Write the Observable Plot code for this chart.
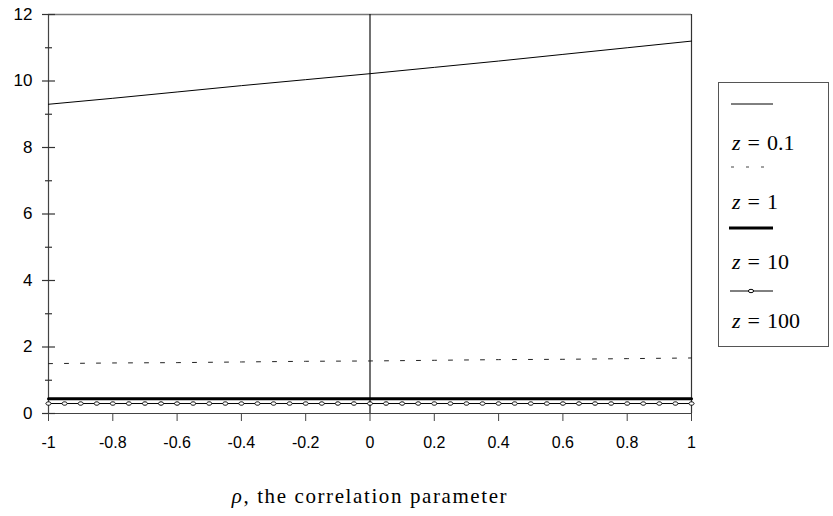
<!DOCTYPE html>
<html><head><meta charset="utf-8">
<script src="https://cdn.jsdelivr.net/npm/d3@7"></script>
<script src="https://cdn.jsdelivr.net/npm/@observablehq/plot@0.6"></script>
<style>
body{margin:0;background:#fff;}
#wrap{position:relative;width:833px;height:516px;}
#legend{position:absolute;left:718px;top:82px;width:111px;height:265px;border:1px solid #555;box-sizing:border-box;}
.lg-sample{position:absolute;left:10px;line-height:0;}
.lg-sample svg{display:block;}
.lg-text{position:absolute;left:13px;font-family:"Liberation Serif",serif;font-size:22px;line-height:22px;white-space:nowrap;color:#000;}
.lg-text i{margin-right:7px;}
.lg-text .eq{margin-right:7px;}
</style></head><body><div id="wrap"></div>
<script>
// ---- data ----
const rho = [-1, -0.8, -0.6, -0.4, -0.2, 0, 0.2, 0.4, 0.6, 0.8, 1];
const seriesThin = [9.30, 9.48, 9.67, 9.86, 10.04, 10.22, 10.41, 10.60, 10.80, 11.00, 11.20];
const seriesDotted = [1.50, 1.52, 1.53, 1.55, 1.57, 1.58, 1.60, 1.62, 1.63, 1.65, 1.67];
const seriesThick = [0.44, 0.44, 0.44, 0.44, 0.44, 0.44, 0.44, 0.44, 0.44, 0.44, 0.44];
const rhoFine = [-1, -0.95, -0.9, -0.85, -0.8, -0.75, -0.7, -0.65, -0.6, -0.55, -0.5, -0.45, -0.4, -0.35, -0.3, -0.25, -0.2, -0.15, -0.1, -0.05, 0, 0.05, 0.1, 0.15, 0.2, 0.25, 0.3, 0.35, 0.4, 0.45, 0.5, 0.55, 0.6, 0.65, 0.7, 0.75, 0.8, 0.85, 0.9, 0.95, 1];
const seriesCircles = [0.3, 0.3, 0.3, 0.3, 0.3, 0.3, 0.3, 0.3, 0.3, 0.3, 0.3, 0.3, 0.3, 0.3, 0.3, 0.3, 0.3, 0.3, 0.3, 0.3, 0.3, 0.3, 0.3, 0.3, 0.3, 0.3, 0.3, 0.3, 0.3, 0.3, 0.3, 0.3, 0.3, 0.3, 0.3, 0.3, 0.3, 0.3, 0.3, 0.3, 0.3];
const xTicks = [-1, -0.8, -0.6, -0.4, -0.2, 0, 0.2, 0.4, 0.6, 0.8, 1];
const xTickLabels = ["-1", "-0.8", "-0.6", "-0.4", "-0.2", "0", "0.2", "0.4", "0.6", "0.8", "1"];
const yMajor = [0, 2, 4, 6, 8, 10, 12];
const yMinor = [1, 3, 5, 7, 9, 11];
const legendLabels = ["0.1", "1", "10", "100"];
const xLabel = "ρ, the correlation parameter";

// ---- helpers ----
const hTick = (l, r) => ({draw(ctx) { ctx.moveTo(-l, 0); ctx.lineTo(r, 0); }});
const ellipse = (rx, ry) => ({draw(ctx) {
  const k = 0.5523;
  ctx.moveTo(rx, 0);
  ctx.bezierCurveTo(rx, ry * k, rx * k, ry, 0, ry);
  ctx.bezierCurveTo(-rx * k, ry, -rx, ry * k, -rx, 0);
  ctx.bezierCurveTo(-rx, -ry * k, -rx * k, -ry, 0, -ry);
  ctx.bezierCurveTo(rx * k, -ry, rx, -ry * k, rx, 0);
  ctx.closePath();
}});

const fmtX = new Map(xTicks.map((t, i) => [t, xTickLabels[i]]));

const chart = Plot.plot({
  width: 833,
  height: 516,
  marginLeft: 48,
  marginRight: 142,
  marginTop: 14,
  marginBottom: 103,
  x: {domain: [-1, 1]},
  y: {domain: [0, 12]},
  style: {fontFamily: '"Liberation Sans", Arial, sans-serif', fontSize: "16px", color: "#000", background: "#fff"},
  marks: [
    // frame
    Plot.ruleY([12], {stroke: "#777", strokeWidth: 1.5}),
    Plot.ruleX([1], {stroke: "#333", strokeWidth: 1.2}),
    Plot.ruleX([-1], {stroke: "#444", strokeWidth: 1.2}),
    Plot.ruleY([0], {stroke: "#444", strokeWidth: 1.2}),
    Plot.ruleX([0], {stroke: "#111", strokeWidth: 1.2}),
    // y ticks
    Plot.dot(yMajor, {x: () => -1, y: d => d, symbol: hTick(6.5, 6.5), fill: "none", stroke: "#333", strokeWidth: 1.2}),
    Plot.dot(yMinor, {x: () => -1, y: d => d, symbol: hTick(3.5, 3.5), fill: "none", stroke: "#333", strokeWidth: 1.2}),
    Plot.axisY({ticks: yMajor, tickSize: 0, tickPadding: 16, fontSize: 17, label: null}),
    Plot.axisX({ticks: xTicks, tickSize: 8, tickPadding: 15, tickFormat: d => fmtX.get(d), stroke: "#444", fontSize: 16, label: null}),
    // series
    Plot.line(rho.map((r, i) => ({r, v: seriesThin[i]})), {x: "r", y: "v", stroke: "#000", strokeWidth: 1}),
    Plot.line(rho.map((r, i) => ({r, v: seriesDotted[i]})), {x: "r", y: "v", stroke: "#222", strokeWidth: 1, strokeDasharray: "4,12"}),
    Plot.line(rho.map((r, i) => ({r, v: seriesThick[i]})), {x: "r", y: "v", stroke: "#000", strokeWidth: 3}),
    Plot.line(rhoFine.map((r, i) => ({r, v: seriesCircles[i]})), {x: "r", y: "v", stroke: "#000", strokeWidth: 1}),
    Plot.dot(rhoFine.map((r, i) => ({r, v: seriesCircles[i]})), {x: "r", y: "v", symbol: ellipse(2.6, 1.7), fill: "#fff", stroke: "#000", strokeWidth: 1}),
    // x label
    Plot.text([xLabel], {frameAnchor: "bottom", dy: 89, text: d => d, fontFamily: '"Liberation Serif", serif', fontSize: 21, fill: "#000"})
  ]
});

// italicize rho in the x label, widen spacing like the reference
d3.select(chart).selectAll("text").each(function() {
  if (this.textContent === xLabel) {
    const t = d3.select(this);
    t.style("letter-spacing", "1.6px");
    t.text(null);
    t.append("tspan").attr("font-style", "italic").text("ρ");
    t.append("tspan").text(xLabel.slice(1));
  }
});

const wrap = document.getElementById("wrap");
wrap.appendChild(chart);

// legend (sample above each label, as in the reference)
const legend = document.createElement("div");
legend.id = "legend";
const sampleTops = [17, 80, 141, 204];
const textTops = [49, 108, 168, 227];
const samples = [
  '<svg width="46" height="8"><line x1="2" y1="4" x2="44" y2="4" stroke="#000" stroke-width="1"/></svg>',
  '<svg width="46" height="8"><line x1="2" y1="4" x2="44" y2="4" stroke="#444" stroke-width="1" stroke-dasharray="3,12"/></svg>',
  '<svg width="46" height="8"><line x1="0" y1="4" x2="44" y2="4" stroke="#000" stroke-width="3"/></svg>',
  '<svg width="46" height="8"><line x1="1" y1="4" x2="44" y2="4" stroke="#000" stroke-width="1"/><ellipse cx="22" cy="4" rx="2.6" ry="1.7" fill="#fff" stroke="#000"/></svg>'
];
legendLabels.forEach((lab, i) => {
  const s = document.createElement("div");
  s.className = "lg-sample";
  s.style.top = sampleTops[i] + "px";
  s.innerHTML = samples[i];
  legend.appendChild(s);
  const t = document.createElement("div");
  t.className = "lg-text";
  t.style.top = textTops[i] + "px";
  t.innerHTML = '<i>z</i><span class="eq">=</span>' + lab;
  legend.appendChild(t);
});
wrap.appendChild(legend);
</script>
</body></html>
